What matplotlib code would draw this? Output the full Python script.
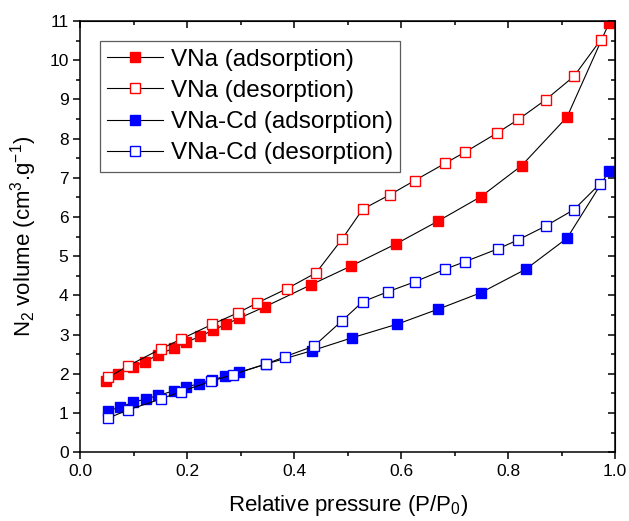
import numpy as np
import matplotlib
matplotlib.use("Agg")
import matplotlib.pyplot as plt
from matplotlib.ticker import MultipleLocator

plt.rcParams['font.family'] = ['Liberation Sans', 'DejaVu Sans']
plt.rcParams['mathtext.default'] = 'regular'

# VNa isotherm
vna_ads_x = [0.048, 0.070, 0.099, 0.120, 0.145, 0.175, 0.197, 0.224, 0.249, 0.273,
             0.297, 0.345, 0.431, 0.506, 0.591, 0.668, 0.749, 0.825, 0.910, 0.989]
vna_ads_y = [1.82, 2.00, 2.18, 2.31, 2.48, 2.66, 2.80, 2.96, 3.12, 3.27,
             3.42, 3.71, 4.27, 4.75, 5.32, 5.89, 6.52, 7.31, 8.55, 10.96]
vna_des_x = [0.973, 0.923, 0.870, 0.819, 0.780, 0.720, 0.682, 0.625, 0.579, 0.528,
             0.489, 0.441, 0.386, 0.331, 0.295, 0.246, 0.189, 0.151, 0.090, 0.052]
vna_des_y = [10.52, 9.59, 8.99, 8.49, 8.15, 7.66, 7.37, 6.93, 6.57, 6.20,
             5.43, 4.58, 4.17, 3.81, 3.56, 3.26, 2.89, 2.64, 2.21, 1.91]

# VNa-Cd isotherm
cd_ads_x = [0.052, 0.074, 0.098, 0.122, 0.146, 0.175, 0.198, 0.221, 0.246, 0.270,
            0.297, 0.347, 0.433, 0.508, 0.593, 0.669, 0.749, 0.833, 0.910, 0.989]
cd_ads_y = [1.06, 1.15, 1.27, 1.36, 1.45, 1.57, 1.66, 1.75, 1.84, 1.94,
            2.04, 2.25, 2.59, 2.92, 3.27, 3.65, 4.07, 4.67, 5.46, 7.18]
cd_des_x = [0.971, 0.923, 0.870, 0.819, 0.781, 0.719, 0.682, 0.626, 0.576, 0.528,
            0.489, 0.437, 0.383, 0.347, 0.285, 0.244, 0.188, 0.151, 0.089, 0.052]
cd_des_y = [6.84, 6.19, 5.77, 5.42, 5.19, 4.86, 4.67, 4.35, 4.10, 3.84,
            3.35, 2.71, 2.44, 2.25, 1.98, 1.81, 1.55, 1.36, 1.08, 0.87]

fig = plt.figure(figsize=(6.29, 5.21), dpi=100)
ax = fig.add_axes([0.1277, 0.1319, 0.8503, 0.8278])

ms = 6.5
ax.plot(vna_ads_x, vna_ads_y, '-s', color='black', lw=0.8, ms=ms,
        mfc='#ff0000', mec='#ff0000', label='VNa (adsorption)')
ax.plot(vna_des_x, vna_des_y, '-s', color='black', lw=0.8, ms=ms,
        mfc='white', mec='#ff0000', mew=1.0, label='VNa (desorption)')
ax.plot(cd_ads_x, cd_ads_y, '-s', color='black', lw=0.8, ms=ms,
        mfc='#0000ff', mec='#0000ff', label='VNa-Cd (adsorption)')
ax.plot(cd_des_x, cd_des_y, '-s', color='black', lw=0.8, ms=ms,
        mfc='white', mec='#0000ff', mew=1.0, label='VNa-Cd (desorption)')

ax.set_xlim(0, 1.0)
ax.set_ylim(0, 11)
ax.xaxis.set_minor_locator(MultipleLocator(0.1))
ax.yaxis.set_major_locator(MultipleLocator(1))
ax.yaxis.set_minor_locator(MultipleLocator(0.5))
ax.set_xticks(np.arange(0, 1.01, 0.2))
ax.set_xticklabels(['0.0', '0.2', '0.4', '0.6', '0.8', '1.0'])

for s in ax.spines.values():
    s.set_linewidth(1.1)

ax.tick_params(which='both', direction='out', labelsize=12.5, width=1.1)
ax.tick_params(which='major', length=5)
ax.tick_params(which='minor', length=3)

# mirrored ticks on top and right pointing inward
axt = ax.secondary_xaxis('top')
axt.set_xticks(np.arange(0, 1.01, 0.2))
axt.xaxis.set_minor_locator(MultipleLocator(0.1))
axt.tick_params(which='both', direction='in', labeltop=False, width=1.1)
axt.tick_params(which='major', length=5)
axt.tick_params(which='minor', length=3)
axr = ax.secondary_yaxis('right')
axr.set_yticks(range(0, 12))
axr.yaxis.set_minor_locator(MultipleLocator(0.5))
axr.tick_params(which='both', direction='in', labelright=False, width=1.1)
axr.tick_params(which='major', length=5)
axr.tick_params(which='minor', length=3)

ax.set_xlabel('Relative pressure (P/P$_0$)', fontsize=16, labelpad=10)
ax.set_ylabel('N$_2$ volume (cm$^3$.g$^{-1}$)', fontsize=16, labelpad=7)

leg = ax.legend(loc='upper left', bbox_to_anchor=(0.037, 0.953), fontsize=17.5,
                frameon=True, fancybox=False, edgecolor='#333333',
                handlelength=2.3, handletextpad=0.3, labelspacing=0.38,
                borderpad=0.3, borderaxespad=0)
leg.get_frame().set_linewidth(0.9)

fig.savefig('out.png', dpi=100)
